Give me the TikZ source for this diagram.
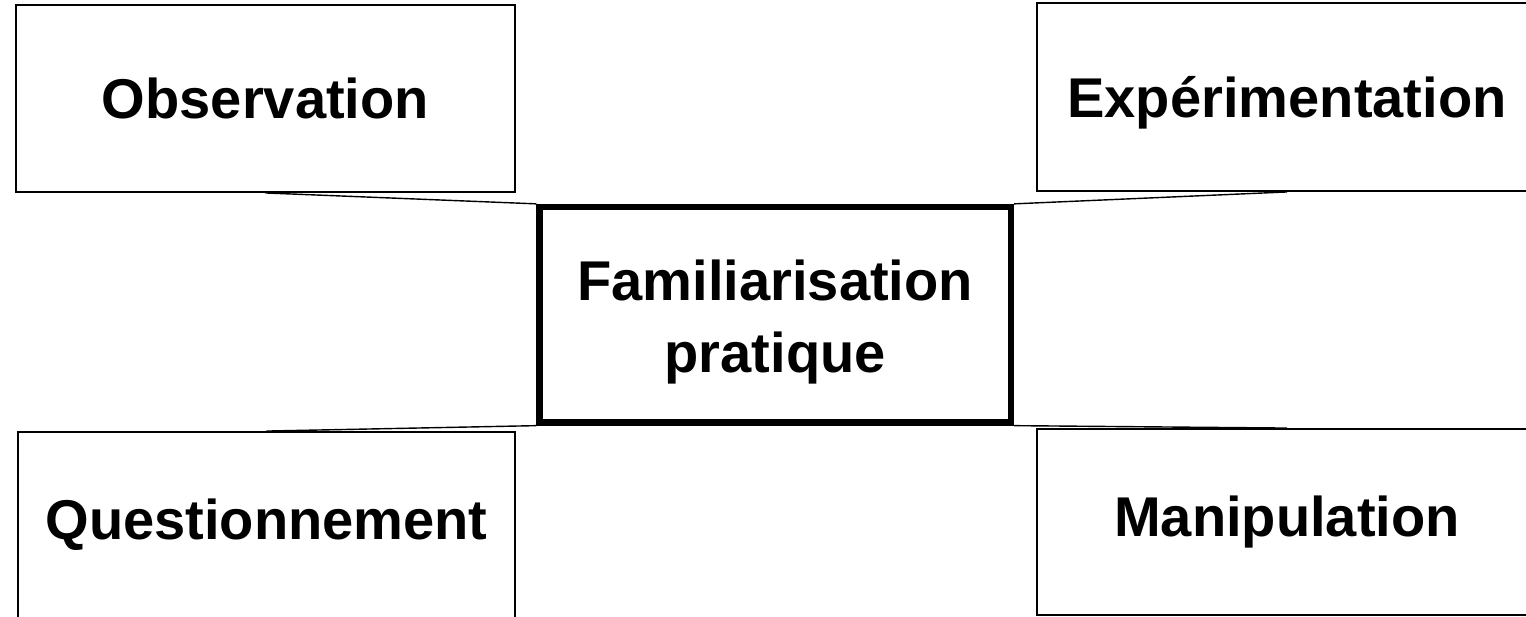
\documentclass[tikz,border=0pt]{standalone}
\usepackage{fontspec}
\setmainfont{Liberation Sans}
\begin{document}
\begin{tikzpicture}[x=0.02cm, y=-0.02cm,
                idea/.style = {draw, line width=1.1pt, inner sep=0pt, font=\fontsize{31.9}{38}\selectfont\bfseries},
                hub/.style = {draw, line width=3.6pt, inner sep=0pt, align=center, font=\fontsize{31.9}{38}\selectfont\bfseries},
                link/.style = {line width=0.8pt}]
                \useasboundingbox (0,0) rectangle (1526,616);

                % Centre

                \node [hub, minimum width=9.43cm, minimum height=4.31cm] (fam) at (775.25,314.75) {\rule{0pt}{31pt}Familiarisation\\[3pt]pratique};

                % Boxes

                \node [idea, minimum width=9.98cm, minimum height=3.74cm] (obs) at (265.5,98.5) {Observation};
                \node [idea, minimum width=10cm, minimum height=3.76cm, text height=23.3pt, text depth=0pt] (exp) at (1287,97) {Expérimentation};
                \node [idea, minimum width=9.94cm, minimum height=3.72cm] (que) at (266.5,525) {Questionnement};
                \node [idea, minimum width=10cm, minimum height=3.72cm] (man) at (1287,522) {Manipulation};

                % Links

                \draw[link] (obs.south) -- (fam.north west);
                \draw[link] (exp.south) -- (fam.north east);
                \draw[link] (que.north) -- (fam.south west);
                \draw[link] (man.north) -- (fam.south east);
            \end{tikzpicture}
\end{document}
